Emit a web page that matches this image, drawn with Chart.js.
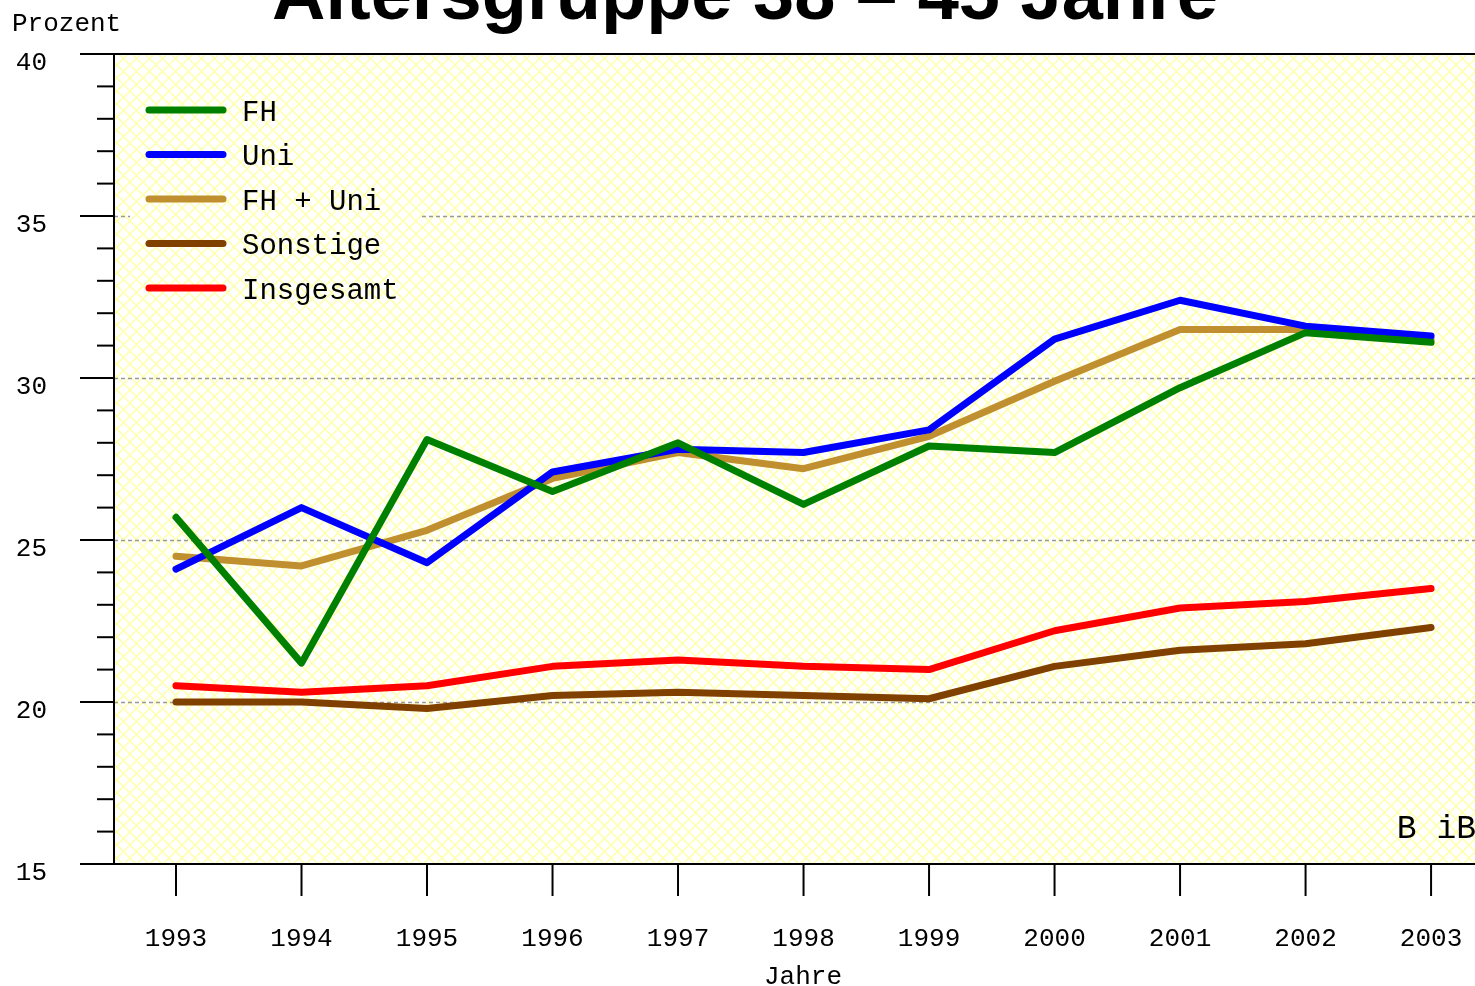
<!DOCTYPE html>
<html>
<head>
<meta charset="utf-8">
<script src="https://cdn.jsdelivr.net/npm/chart.js@4"></script>
<style>
html,body{margin:0;padding:0;background:#fff;}
canvas{display:block;}
</style>
</head>
<body>
<canvas id="c" width="1475" height="986"></canvas>
<script>
const years = [1993,1994,1995,1996,1997,1998,1999,2000,2001,2002,2003];
const fh        = [25.7,21.2,28.1,26.5,28.0,26.1,27.9,27.7,29.7,31.4,31.1];
const uni       = [24.1,26.0,24.3,27.1,27.8,27.7,28.4,31.2,32.4,31.6,31.3];
const fhUni     = [24.5,24.2,25.3,26.9,27.7,27.2,28.2,29.9,31.5,31.5,31.2];
const sonstige  = [20.0,20.0,19.8,20.2,20.3,20.2,20.1,21.1,21.6,21.8,22.3];
const insgesamt = [20.5,20.3,20.5,21.1,21.3,21.1,21.0,22.2,22.9,23.1,23.5];
const yTickLabels = [15,20,25,30,35,40];
const seriesNames = ['FH','Uni','FH + Uni','Sonstige','Insgesamt'];
const seriesColors = ['#008000','#0000ff','#c09030','#804000','#ff0000'];
const seriesValues = [fh, uni, fhUni, sonstige, insgesamt];
const chartTitle = 'Altersgruppe 38 \u2013 45 Jahre';
const yTitle = 'Prozent';
const xTitle = 'Jahre';
const sourceMark = 'B iB';

const MONO = "'Liberation Mono', 'DejaVu Sans Mono', monospace";

function makePattern(ctx){
  const s = 13;
  const pc = document.createElement('canvas');
  pc.width = s; pc.height = s;
  const p = pc.getContext('2d');
  p.fillStyle = '#ffffff';
  p.fillRect(0,0,s,s);
  p.strokeStyle = '#ffffb4';
  p.lineWidth = 1.6;
  p.beginPath();
  p.moveTo(-1,-1); p.lineTo(s+1,s+1);
  p.moveTo(s+1,-1); p.lineTo(-1,s+1);
  p.stroke();
  return ctx.createPattern(pc,'repeat');
}

const decor = {
  id:'decor',
  beforeDraw(chart){
    const {ctx, chartArea:a} = chart;
    ctx.save();
    ctx.fillStyle = '#fff';
    ctx.fillRect(0,0,chart.width,chart.height);
    ctx.fillStyle = makePattern(ctx);
    ctx.fillRect(a.left, a.top, a.right-a.left, a.bottom-a.top);
    ctx.restore();
  },
  beforeDatasetsDraw(chart){
    const {ctx, chartArea:a} = chart;
    const ys = chart.scales.y;
    ctx.save();
    ctx.strokeStyle = '#999';
    ctx.lineWidth = 1.5;
    ctx.setLineDash([4,3]);
    [20,25,30,35].forEach(v=>{
      const y = Math.round(ys.getPixelForValue(v))+0.5;
      ctx.beginPath(); ctx.moveTo(a.left, y); ctx.lineTo(a.right, y); ctx.stroke();
    });
    ctx.restore();
  },
  afterDatasetsDraw(chart){
    const {ctx, chartArea:a} = chart;
    const xs = chart.scales.x, ys = chart.scales.y;
    ctx.save();
    // legend box
    ctx.fillStyle = makePattern(ctx);
    ctx.fillRect(130, 82, 290, 230);
    seriesNames.forEach((n,i)=>{
      const y = 110 + i*44.5;
      ctx.strokeStyle = seriesColors[i];
      ctx.lineWidth = 7;
      ctx.lineCap = 'round';
      ctx.beginPath(); ctx.moveTo(149,y); ctx.lineTo(223,y); ctx.stroke();
      ctx.fillStyle = '#000';
      ctx.font = '29px ' + MONO;
      ctx.textBaseline = 'middle';
      ctx.textAlign = 'left';
      ctx.fillText(n, 242, y+3);
    });
    // frame
    ctx.strokeStyle = '#000';
    ctx.lineCap = 'butt';
    ctx.lineWidth = 2;
    ctx.beginPath();
    ctx.moveTo(a.left, a.top); ctx.lineTo(a.left, a.bottom);
    ctx.moveTo(80, a.top); ctx.lineTo(a.right, a.top);
    ctx.moveTo(80, a.bottom); ctx.lineTo(a.right, a.bottom);
    ctx.stroke();
    // y ticks
    for(let v=15; v<=40; v++){
      const y = ys.getPixelForValue(v);
      const len = (v%5===0) ? 34 : 17;
      ctx.beginPath(); ctx.moveTo(a.left-len, y); ctx.lineTo(a.left, y); ctx.stroke();
    }
    // x ticks
    years.forEach(yr=>{
      const x = xs.getPixelForValue(yr);
      ctx.beginPath(); ctx.moveTo(x, a.bottom); ctx.lineTo(x, a.bottom+32); ctx.stroke();
    });
    // texts
    ctx.fillStyle = '#000';
    ctx.textBaseline = 'alphabetic';
    ctx.font = '26px ' + MONO;
    ctx.textAlign = 'left';
    ctx.fillText(yTitle, 12, 31);
    ctx.textAlign = 'center';
    ctx.fillText(xTitle, 803, 984);
    ctx.font = '33px ' + MONO;
    ctx.textAlign = 'right';
    ctx.fillText(sourceMark, 1476, 838);
    ctx.font = "bold 74px 'Liberation Sans', Arial, sans-serif";
    ctx.textAlign = 'center';
    ctx.fillText(chartTitle, 745, 19);
    ctx.restore();
  }
};

const datasets = seriesNames.map((n,i)=>({
  label:n,
  data: years.map((yr,j)=>({x:yr, y:seriesValues[i][j]})),
  borderColor: seriesColors[i],
  backgroundColor: seriesColors[i],
  borderWidth: 7,
  borderCapStyle:'round',
  borderJoinStyle:'round',
  pointRadius:0,
  tension:0,
  fill:false
}));

new Chart(document.getElementById('c'), {
  type:'line',
  data:{datasets},
  plugins:[decor],
  options:{
    responsive:false,
    devicePixelRatio:1,
    animation:false,
    layout:{padding:{top:54,right:0,left:0,bottom:0}},
    plugins:{legend:{display:false}, title:{display:false}, tooltip:{enabled:false}},
    scales:{
      x:{
        type:'linear',
        min:1992.506, max:2003.35,
        grid:{display:false, drawTicks:false},
        border:{display:false},
        afterBuildTicks(s){ s.ticks = years.map(v=>({value:v})); },
        afterFit(s){ s.height = 122; s.paddingLeft = 0; s.paddingRight = 0; },
        ticks:{
          autoSkip:false, maxRotation:0, minRotation:0, padding:60,
          color:'#000', font:{family:MONO, size:26},
          callback(v){ return String(Math.round(v)); }
        }
      },
      y:{
        type:'linear',
        min:15, max:40,
        grid:{display:false, drawTicks:false},
        border:{display:false},
        afterBuildTicks(s){ s.ticks = yTickLabels.map(v=>({value:v})); },
        afterFit(s){ s.width = 114; s.paddingTop = 0; s.paddingBottom = 0; },
        ticks:{
          padding:67, labelOffset:9,
          color:'#000', font:{family:MONO, size:26},
          callback(v){ return String(v); }
        }
      }
    }
  }
});
</script>
</body>
</html>
